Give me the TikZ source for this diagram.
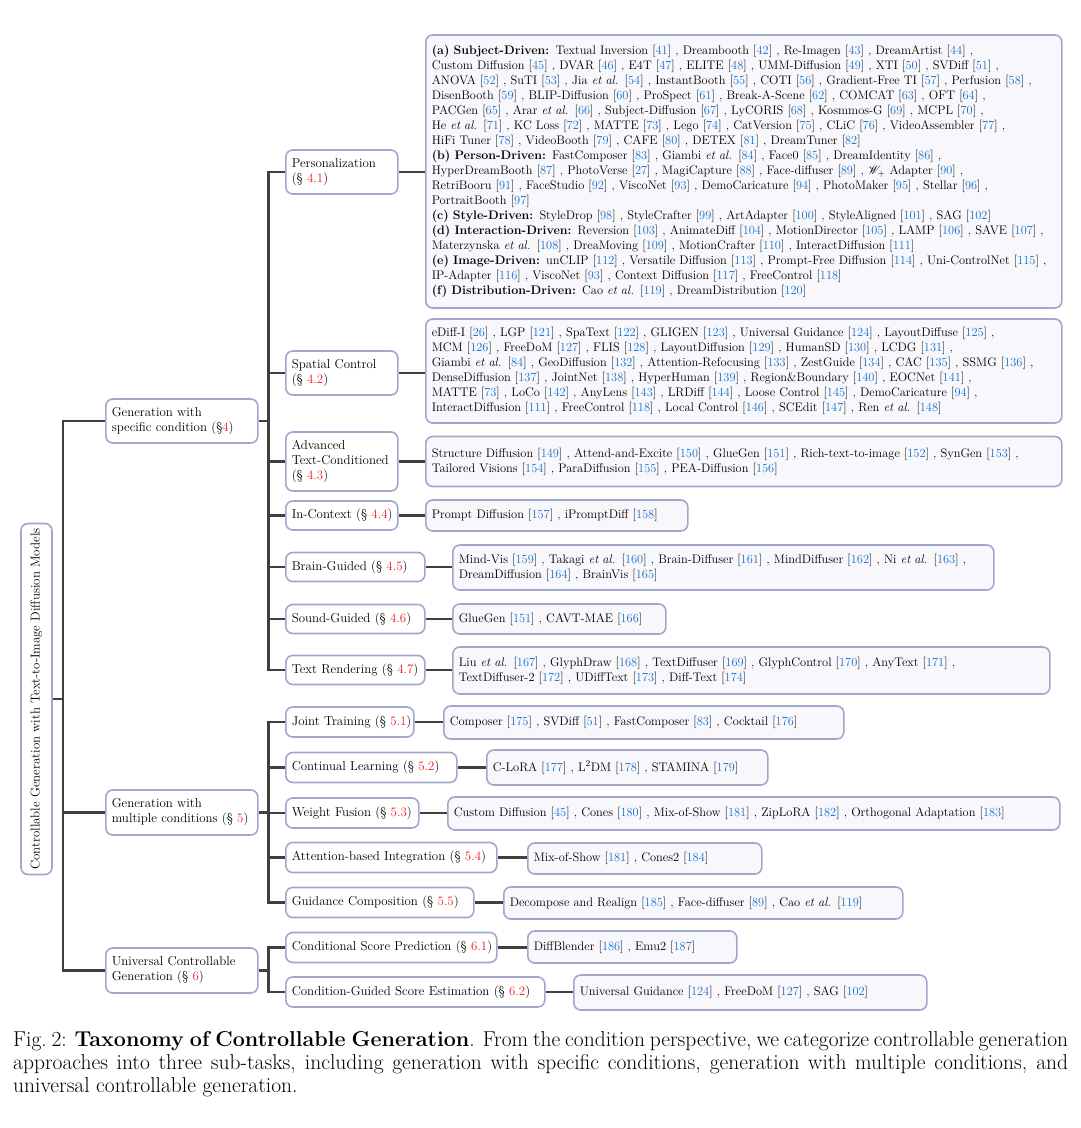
\documentclass[tikz,border=0pt]{standalone}
\usepackage{mathrsfs}
\usetikzlibrary{positioning}
\definecolor{bord}{RGB}{163,166,204}
\definecolor{leaffill}{RGB}{248,248,252}
\definecolor{linec}{RGB}{64,64,64}
\definecolor{citeblue}{RGB}{20,110,200}
\definecolor{secred}{RGB}{236,28,36}
\newcommand\rf[1]{[\textcolor{citeblue}{#1}]}
\newcommand\sn[1]{\textcolor{secred}{#1}}
\newcommand\fs{\fontsize{12.4}{15}\selectfont}
\newcommand\lfs{\fontsize{12.9}{15}\selectfont}
\newcommand\capfs{\fontsize{21.5}{23}\selectfont}
\newcommand\ea{\textit{et al.}}
\tikzset{
  box/.style={draw=bord, line width=1.6pt, rounded corners=7pt, fill=white,
    inner xsep=6pt, inner ysep=0pt, align=left, font=\lfs, anchor=west},
  leaf/.style={box, fill=leaffill, inner xsep=6pt, font=\fs},
  conn/.style={draw=linec, line width=2.6pt},
}
\begin{document}
\begin{tikzpicture}[x=1pt,y=-1pt]
\useasboundingbox (0,0) rectangle (1080,1128);

% root
\node[box, anchor=center, rotate=90, minimum width=351pt, minimum height=31pt, inner xsep=0pt, align=center] (root) at (36.5,699) {Controllable Generation with Text-to-Image Diffusion Models};
\coordinate (t0) at (63,0);
\coordinate (t1) at (268.5,0);

% level 1
\node[box, text width=140pt, minimum height=44pt] (g4) at (105,421) {Generation with\\specific condition (\S\sn{4})};
\node[box, text width=140pt, minimum height=45pt] (g5) at (105,812.5) {Generation with\\multiple conditions (\S~\sn{5})};
\node[box, text width=140pt, minimum height=45pt] (g6) at (105,970.5) {Universal Controllable\\Generation (\S~\sn{6})};

% level 2
\node[box, text width=100pt, minimum height=44pt] (pers) at (285,172) {Personalization\\(\S~\sn{4.1})};
\node[box, text width=100pt, minimum height=44pt] (spat) at (285,373) {Spatial Control\\(\S~\sn{4.2})};
\node[box, text width=100pt, minimum height=59pt] (adv) at (285,461.5) {Advanced\\Text-Conditioned\\(\S~\sn{4.3})};
\node[box, text width=100pt, minimum height=29pt] (incon) at (285,515.5) {\mbox{In-Context (\S~\sn{4.4})}};
\node[box, text width=127pt, minimum height=29pt] (brain) at (285,567) {\mbox{Brain-Guided (\S~\sn{4.5})}};
\node[box, text width=127pt, minimum height=29pt] (sound) at (285,619) {\mbox{Sound-Guided (\S~\sn{4.6})}};
\node[box, text width=127pt, minimum height=29pt] (textr) at (285,670) {\mbox{Text Rendering (\S~\sn{4.7})}};
\node[box, text width=116pt, minimum height=30pt] (joint) at (285,722) {\mbox{Joint Training (\S~\sn{5.1})}};
\node[box, text width=159pt, minimum height=30pt] (cont) at (285,767.5) {\mbox{Continual Learning (\S~\sn{5.2})}};
\node[box, text width=121pt, minimum height=30pt] (wfus) at (285,813) {\mbox{Weight Fusion (\S~\sn{5.3})}};
\node[box, text width=199pt, minimum height=30pt] (attn) at (285,857.5) {\mbox{Attention-based Integration (\S~\sn{5.4})}};
\node[box, text width=176pt, minimum height=30pt] (guid) at (285,902.5) {\mbox{Guidance Composition (\S~\sn{5.5})}};
\node[box, text width=199pt, minimum height=30pt] (csp) at (285,947.5) {\mbox{Conditional Score Prediction (\S~\sn{6.1})}};
\node[box, text width=247pt, minimum height=30pt] (cgs) at (285,992) {\mbox{Condition-Guided Score Estimation (\S~\sn{6.2})}};

% leaves
\node[leaf, text width=624pt, minimum height=273pt] (lpers) at (425,171.5) {%
\textbf{(a) Subject-Driven:} Textual Inversion \rf{41} , Dreambooth \rf{42} , Re-Imagen \rf{43} , DreamArtist \rf{44} ,\\
Custom Diffusion \rf{45} , DVAR \rf{46} , E4T \rf{47} , ELITE \rf{48} , UMM-Diffusion \rf{49} , XTI \rf{50} , SVDiff \rf{51} ,\\
ANOVA \rf{52} , SuTI \rf{53} , Jia \ea{} \rf{54} , InstantBooth \rf{55} , COTI \rf{56} , Gradient-Free TI \rf{57} , Perfusion \rf{58} ,\\
DisenBooth \rf{59} , BLIP-Diffusion \rf{60} , ProSpect \rf{61} , Break-A-Scene \rf{62} , COMCAT \rf{63} , OFT \rf{64} ,\\
PACGen \rf{65} , Arar \ea{} \rf{66} , Subject-Diffusion \rf{67} , LyCORIS \rf{68} , Kosmmos-G \rf{69} , MCPL \rf{70} ,\\
He \ea{} \rf{71} , KC Loss \rf{72} , MATTE \rf{73} , Lego \rf{74} , CatVersion \rf{75} , CLiC \rf{76} , VideoAssembler \rf{77} ,\\
HiFi Tuner \rf{78} , VideoBooth \rf{79} , CAFE \rf{80} , DETEX \rf{81} , DreamTuner \rf{82}\\
\textbf{(b) Person-Driven:} FastComposer \rf{83} , Giambi \ea{} \rf{84} , Face0 \rf{85} , DreamIdentity \rf{86} ,\\
HyperDreamBooth \rf{87} , PhotoVerse \rf{27} , MagiCapture \rf{88} , Face-diffuser \rf{89} , $\mathscr{W}_{+}$ Adapter \rf{90} ,\\
RetriBooru \rf{91} , FaceStudio \rf{92} , ViscoNet \rf{93} , DemoCaricature \rf{94} , PhotoMaker \rf{95} , Stellar \rf{96} ,\\
PortraitBooth \rf{97}\\
\textbf{(c) Style-Driven:} StyleDrop \rf{98} , StyleCrafter \rf{99} , ArtAdapter \rf{100} , StyleAligned \rf{101} , SAG \rf{102}\\
\textbf{(d) Interaction-Driven:} Reversion \rf{103} , AnimateDiff \rf{104} , MotionDirector \rf{105} , LAMP \rf{106} , SAVE \rf{107} ,\\
Materzynska \ea{} \rf{108} , DreaMoving \rf{109} , MotionCrafter \rf{110} , InteractDiffusion \rf{111}\\
\textbf{(e) Image-Driven:} unCLIP \rf{112} , Versatile Diffusion \rf{113} , Prompt-Free Diffusion \rf{114} , Uni-ControlNet \rf{115} ,\\
IP-Adapter \rf{116} , ViscoNet \rf{93} , Context Diffusion \rf{117} , FreeControl \rf{118}\\
\textbf{(f) Distribution-Driven:} Cao \ea{} \rf{119} , DreamDistribution \rf{120}};

\node[leaf, text width=624pt, minimum height=104pt] (lspat) at (425,371) {%
eDiff-I \rf{26} , LGP \rf{121} , SpaText \rf{122} , GLIGEN \rf{123} , Universal Guidance \rf{124} , LayoutDiffuse \rf{125} ,\\
MCM \rf{126} , FreeDoM \rf{127} , FLIS \rf{128} , LayoutDiffusion \rf{129} , HumanSD \rf{130} , LCDG \rf{131} ,\\
Giambi \ea{} \rf{84} , GeoDiffusion \rf{132} , Attention-Refocusing \rf{133} , ZestGuide \rf{134} , CAC \rf{135} , SSMG \rf{136} ,\\
DenseDiffusion \rf{137} , JointNet \rf{138} , HyperHuman \rf{139} , Region\&Boundary \rf{140} , EOCNet \rf{141} ,\\
MATTE \rf{73} , LoCo \rf{142} , AnyLens \rf{143} , LRDiff \rf{144} , Loose Control \rf{145} , DemoCaricature \rf{94} ,\\
InteractDiffusion \rf{111} , FreeControl \rf{118} , Local Control \rf{146} , SCEdit \rf{147} , Ren \ea{} \rf{148}};

\node[leaf, text width=624pt, minimum height=50pt] (ladv) at (425,461.5) {%
Structure Diffusion \rf{149} , Attend-and-Excite \rf{150} , GlueGen \rf{151} , Rich-text-to-image \rf{152} , SynGen \rf{153} ,\\
Tailored Visions \rf{154} , ParaDiffusion \rf{155} , PEA-Diffusion \rf{156}};

\node[leaf, text width=250pt, minimum height=31pt] (lincon) at (425,515.5) {Prompt Diffusion \rf{157} , iPromptDiff \rf{158}};

\node[leaf, text width=529pt, minimum height=45pt] (lbrain) at (452,567.5) {%
Mind-Vis \rf{159} , Takagi \ea{} \rf{160} , Brain-Diffuser \rf{161} , MindDiffuser \rf{162} , Ni \ea{} \rf{163} ,\\
DreamDiffusion \rf{164} , BrainVis \rf{165}};

\node[leaf, text width=201pt, minimum height=30pt] (lsound) at (452,619) {GlueGen \rf{151} , CAVT-MAE \rf{166}};

\node[leaf, text width=585pt, minimum height=47pt] (ltextr) at (452,670.5) {%
Liu \ea{} \rf{167} , GlyphDraw \rf{168} , TextDiffuser \rf{169} , GlyphControl \rf{170} , AnyText \rf{171} ,\\
TextDiffuser-2 \rf{172} , UDiffText \rf{173} , Diff-Text \rf{174}};

\node[leaf, text width=388pt, minimum height=33pt] (ljoint) at (443,722.5) {Composer \rf{175} , SVDiff \rf{51} , FastComposer \rf{83} , Cocktail \rf{176}};
\node[leaf, text width=269pt, minimum height=35pt] (lcont) at (486,767.5) {C-LoRA \rf{177} , L$^{2}$DM \rf{178} , STAMINA \rf{179}};
\node[leaf, text width=600pt, minimum height=33pt] (lwfus) at (447,813.5) {Custom Diffusion \rf{45} , Cones \rf{180} , Mix-of-Show \rf{181} , ZipLoRA \rf{182} , Orthogonal Adaptation \rf{183}};
\node[leaf, text width=222pt, minimum height=31pt] (lattn) at (527,858.5) {Mix-of-Show \rf{181} , Cones2 \rf{184}};
\node[leaf, text width=387pt, minimum height=32pt] (lguid) at (503,903) {Decompose and Realign \rf{185} , Face-diffuser \rf{89} , Cao \ea{} \rf{119}};
\node[leaf, text width=197pt, minimum height=32pt] (lcsp) at (527,947) {DiffBlender \rf{186} , Emu2 \rf{187}};
\node[leaf, text width=341pt, minimum height=35pt] (lcgs) at (573,992.5) {Universal Guidance \rf{124} , FreeDoM \rf{127} , SAG \rf{102}};

% connectors: root trunk
\draw[conn] (root.south) -- (root.south -| t0);
\draw[conn] (g4.west) -- (g4.west -| t0) -- (g6.west -| t0) -- (g6.west);
\draw[conn] (g5.west) -- (g5.west -| t0);

% level-2 trunks
\draw[conn] (g4.east) -- (g4.east -| t1);
\draw[conn] (pers.west) -- (pers.west -| t1) -- (textr.west -| t1) -- (textr.west);
\foreach \n in {spat,adv,incon,brain,sound} \draw[conn] (\n.west) -- (\n.west -| t1);

\draw[conn] (g5.east) -- (g5.east -| t1);
\draw[conn] (joint.west) -- (joint.west -| t1) -- (guid.west -| t1) -- (guid.west);
\foreach \n in {cont,wfus,attn} \draw[conn] (\n.west) -- (\n.west -| t1);

\draw[conn] (g6.east) -- (g6.east -| t1);
\draw[conn] (csp.west) -- (csp.west -| t1) -- (cgs.west -| t1) -- (cgs.west);

% level-2 to leaves
\foreach \a/\b in {pers/lpers,spat/lspat,adv/ladv,incon/lincon,brain/lbrain,sound/lsound,textr/ltextr,joint/ljoint,cont/lcont,wfus/lwfus,attn/lattn,guid/lguid,csp/lcsp,cgs/lcgs}
  \draw[conn] (\a.east) -- (\a.east -| \b.west);

% caption
\node[anchor=north west, inner sep=0pt, align=left, font=\capfs] (cap) at (13,1031) {%
\makebox[1055pt][s]{Fig.~2: \textbf{Taxonomy of Controllable Generation}. From the condition perspective, we categorize controllable generation}\\
\makebox[1055pt][s]{approaches into three sub-tasks, including generation with specific conditions, generation with multiple conditions, and}\\
universal controllable generation.};
\end{tikzpicture}
\end{document}
